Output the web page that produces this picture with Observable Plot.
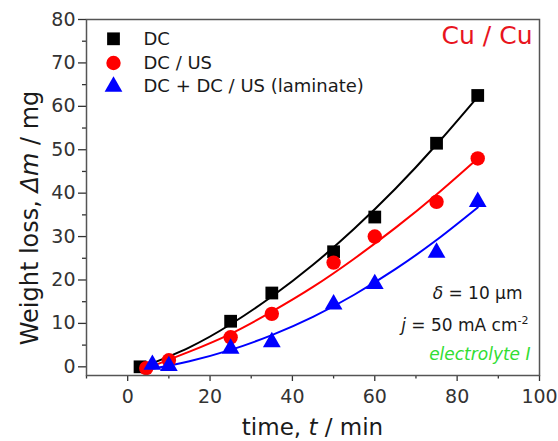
<!DOCTYPE html>
<html>
<head>
<meta charset="utf-8">
<script src="https://cdn.jsdelivr.net/npm/d3@7"></script>
<script src="https://cdn.jsdelivr.net/npm/@observablehq/plot@0.6"></script>
<style>
  html, body { margin: 0; padding: 0; background: #fff; }
</style>
</head>
<body>
<div id="chart"></div>
<script>
// ---- data ----
const seriesNames = ["DC", "DC / US", "DC + DC / US (laminate)"];
const seriesColors = ["#000000", "#ff0000", "#0000ff"];
const seriesSymbols = ["square", "circle", "triangle"];

// measured points
const dcTime  = [3, 25, 35, 50, 60, 75, 85];
const dcLoss  = [0, 10.5, 17, 26.5, 34.5, 51.5, 62.5];
const usTime  = [4.5, 10, 25, 35, 50, 60, 75, 85];
const usLoss  = [-0.3, 1.5, 6.8, 12.2, 24, 30, 38, 48];
const lamTime = [6, 10, 25, 35, 50, 60, 75, 85];
const lamLoss = [0.5, 0.2, 4.2, 5.7, 14.4, 19.1, 26.3, 38];

// fitted curves
const dcFitTime  = [3, 15, 25, 35, 45, 55, 65, 75, 85];
const dcFitLoss  = [-0.3, 4.5, 9.8, 16.2, 23.5, 31.8, 41, 51.2, 62.2];
const usFitTime  = [4, 15, 25, 35, 45, 55, 65, 75, 85];
const usFitLoss  = [-0.6, 3.5, 7.6, 12.7, 18.4, 24.9, 32, 39.7, 48];
const lamFitTime = [5, 15, 25, 35, 45, 55, 65, 75, 85];
const lamFitLoss = [-0.6, 1.3, 3.9, 7.3, 11.5, 16.6, 22.5, 29.2, 36.7];

// axes
const xDomain = [-10, 100];
const yDomain = [-2, 80];
const xMajorTicks = [0, 20, 40, 60, 80, 100];
const xMinorTicks = [-10, 10, 30, 50, 70, 90];
const yMajorTicks = [0, 10, 20, 30, 40, 50, 60, 70, 80];
const yMinorTicks = [5, 15, 25, 35, 45, 55, 65, 75];

// texts
const xTitle = ["time, ", "t", " / min"];
const yTitle = ["Weight loss, ", "\u0394m", " / mg"];
const sampleLabel = "Cu / Cu";
const thicknessLabel = ["\u03b4", " = 10 \u03bcm"];
const currentLabel = ["j", " = 50 mA cm", "-2"];
const electrolyteLabel = "electrolyte I";

// ---- tables ----
const zip = (xs, ys) => xs.map((x, i) => ({ x, y: ys[i] }));
const points = [zip(dcTime, dcLoss), zip(usTime, usLoss), zip(lamTime, lamLoss)];
const fits = [zip(dcFitTime, dcFitLoss), zip(usFitTime, usFitLoss), zip(lamFitTime, lamFitLoss)];
const markerR = [7.2, 7.2, 6.6];

const font = "DejaVu Sans";
const ink = "#1a1a1a";
const marks = [];

// fit lines
fits.forEach((f, i) => {
  marks.push(Plot.line(f, { x: "x", y: "y", stroke: seriesColors[i], strokeWidth: 2, curve: "natural" }));
});
// markers
points.forEach((p, i) => {
  marks.push(Plot.dot(p, { x: "x", y: "y", symbol: seriesSymbols[i], r: markerR[i], fill: seriesColors[i], stroke: "none" }));
});

// legend
const legendDy = [19.3, 43.5, 67];
seriesNames.forEach((name, i) => {
  marks.push(Plot.dot([name], { frameAnchor: "top-left", dx: 27, dy: legendDy[i], symbol: seriesSymbols[i], r: markerR[i], fill: seriesColors[i], stroke: "none" }));
  marks.push(Plot.text([name], { text: d => d, frameAnchor: "top-left", dx: 57, dy: legendDy[i], textAnchor: "start", lineAnchor: "middle", fontSize: 18, fill: ink, fontFamily: font }));
});

// annotations
marks.push(Plot.text([sampleLabel], { text: d => d, frameAnchor: "top-right", dx: -7, dy: 16.5, textAnchor: "end", lineAnchor: "middle", fontSize: 25, fill: "#e8141e", fontFamily: font }));
marks.push(Plot.text([thicknessLabel.join("")], { text: d => d, frameAnchor: "bottom-right", dx: -17, dy: -82.4, textAnchor: "end", lineAnchor: "middle", fontSize: 17, fill: ink, fontFamily: font }));
marks.push(Plot.text([currentLabel.join("")], { text: d => d, frameAnchor: "bottom-right", dx: -11, dy: -50.4, textAnchor: "end", lineAnchor: "middle", fontSize: 17, fill: ink, fontFamily: font }));
marks.push(Plot.text([electrolyteLabel], { text: d => d, frameAnchor: "bottom-right", dx: -9, dy: -21.4, textAnchor: "end", lineAnchor: "middle", fontSize: 17, fill: "#33dd33", fontStyle: "italic", fontFamily: font }));

// axis titles
marks.push(Plot.text([xTitle.join("")], { text: d => d, frameAnchor: "bottom", dx: -0.5, dy: 52.6, textAnchor: "middle", lineAnchor: "middle", fontSize: 23, fill: ink, fontFamily: font }));
marks.push(Plot.text([yTitle.join("")], { text: d => d, frameAnchor: "left", dx: -56.2, dy: 20.5, rotate: -90, textAnchor: "middle", lineAnchor: "middle", fontSize: 24, fill: ink, fontFamily: font }));

// axes
marks.push(Plot.axisX({ ticks: xMajorTicks, tickSize: 6, tickPadding: 8, fontSize: 19, label: null, color: "#333", strokeWidth: 1.3 }));
marks.push(Plot.axisX({ ticks: xMinorTicks, tickSize: 3.5, tickFormat: () => "", label: null, color: "#333", strokeWidth: 1.3 }));
marks.push(Plot.axisY({ ticks: yMajorTicks, tickSize: 8, tickPadding: 3, fontSize: 19, label: null, color: "#333", strokeWidth: 1.3 }));
marks.push(Plot.axisY({ ticks: yMinorTicks, tickSize: 4, tickFormat: () => "", label: null, color: "#333", strokeWidth: 1.3 }));
marks.push(Plot.frame({ stroke: "#555", strokeWidth: 1.5 }));

const plot = Plot.plot({
  width: 558,
  height: 441,
  marginLeft: 86,
  marginRight: 19,
  marginTop: 19,
  marginBottom: 66,
  x: { domain: xDomain },
  y: { domain: yDomain },
  style: { fontFamily: font, background: "#fff", overflow: "visible" },
  marks
});
document.getElementById("chart").appendChild(plot);

// rich text (italic symbols, superscript): find the text node by its content
function rich(parts, styles) {
  const full = parts.join("");
  const nodes = Array.from(plot.querySelectorAll("text")).filter(n => n.textContent === full);
  nodes.forEach(node => {
    const t = d3.select(node);
    t.text(null);
    parts.forEach((p, i) => {
      const s = t.append("tspan").text(p);
      const st = styles[i] || {};
      if (st.italic) s.attr("font-style", "italic");
      if (st.sup) s.attr("dy", "-0.6em").attr("font-size", "0.65em");
    });
  });
}
rich(xTitle, [null, { italic: true }, null]);
rich(yTitle, [null, { italic: true }, null]);
rich(thicknessLabel, [{ italic: true }, null]);
rich(currentLabel, [{ italic: true }, null, { sup: true }]);
</script>
</body>
</html>
